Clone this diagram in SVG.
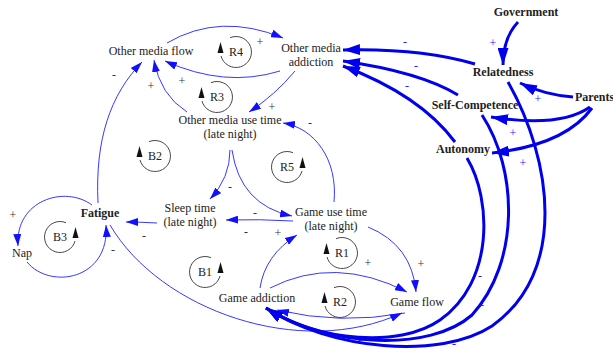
<svg xmlns="http://www.w3.org/2000/svg" xmlns:xlink="http://www.w3.org/1999/xlink" width="613" height="352" viewBox="0 0 613 352">
<style>
text{font-family:"Liberation Serif","Times New Roman",serif;font-size:12px;fill:#222;text-anchor:middle}
.b{font-weight:bold}
.thin{fill:none;stroke:#2020ff;stroke-width:0.9;marker-end:url(#ah)}
.thick{fill:none;stroke:#0000ee;stroke-width:3;marker-end:url(#ahb)}
.pol{font-size:12px;fill:#333}
.polb{font-size:12px;fill:#2020ff}
.loop{fill:none;stroke:#333;stroke-width:0.9}
</style>
<defs>
<marker id="ah" markerUnits="userSpaceOnUse" markerWidth="12" markerHeight="8" refX="12" refY="4" orient="auto"><path d="M0,0 L12,4 L0,8 z" fill="#1010ff"/></marker>
<marker id="ahb" markerUnits="userSpaceOnUse" markerWidth="17" markerHeight="11" refX="17" refY="5.5" orient="auto"><path d="M0,0 L17,5.5 L0,11 z" fill="#0000ee"/></marker>
<g id="loopL"><path class="loop" d="M-6,-14.3 A15.5,15.5 0 1 1 -15,4"/><path d="M-15.5,-10 L-18.5,1 L-12.5,1 z" fill="#111"/></g>
<g id="loopR"><path class="loop" d="M6,-14.3 A15.5,15.5 0 1 0 15,4"/><path d="M15.5,-10 L12.5,1 L18.5,1 z" fill="#111"/></g>
</defs>
<rect width="613" height="352" fill="#fff"/>
<g id="connectors">
<path class="thin" d="M167,43 Q220,12 283,38"/>
<path class="thin" d="M280,71 Q225,88 165,61"/>
<path class="thin" d="M295,71 Q275,95 249,112"/>
<path class="thin" d="M187,112 Q160,95 154,60"/>
<path class="thin" d="M98,203 C95,140 110,95 142,62"/>
<path class="thin" d="M230,150 Q230,178 210,199"/>
<path class="thin" d="M232,150 Q240,205 292,216"/>
<path class="thin" d="M293,221 Q260,219 226,220"/>
<path class="thin" d="M157,223 Q140,222 126,222"/>
<path class="thin" d="M334,202 C338,160 315,128 283,123"/>
<path class="thin" d="M260,288 Q265,255 297,235"/>
<path class="thin" d="M270,288 Q335,255 407,292"/>
<path class="thin" d="M405,313 Q340,325 277,310"/>
<path class="thin" d="M368,227 Q412,245 416,292"/>
<path class="thin" d="M110,225 C160,310 300,360 402,313"/>
<path class="thin" d="M92,205 C65,185 15,200 18,246"/>
<path class="thin" d="M27,262 C50,290 110,280 106,225"/>
<path class="thick" d="M518,22 Q503,38 503,65"/>
<path class="thick" d="M475,64 Q420,48 343,50"/>
<path class="thick" d="M458,95 Q420,72 343,61"/>
<path class="thick" d="M455,142 Q420,95 343,66"/>
<path class="thick" d="M573,97 Q545,95 520,83"/>
<path class="thick" d="M590,107 Q560,128 491,117"/>
<path class="thick" d="M592,108 Q565,145 492,153"/>
<path class="thick" d="M508,82 C552,160 568,272 492,326 C440,360 330,350 266,308"/>
<path class="thick" d="M482,115 C518,170 520,262 472,315 C430,352 330,348 266,308"/>
<path class="thick" d="M467,158 C492,200 494,282 440,320 C400,348 320,342 266,308"/>
</g>
<g id="polarities">
<text class="pol" x="260" y="46">+</text>
<text class="pol" x="182" y="85">+</text>
<text class="pol" x="272" y="111">+</text>
<text class="pol" x="151" y="90">+</text>
<text class="pol" x="114" y="79">-</text>
<text class="pol" x="230" y="191">-</text>
<text class="pol" x="255" y="217">-</text>
<text class="pol" x="246" y="236">-</text>
<text class="pol" x="144" y="240">-</text>
<text class="pol" x="310" y="127">-</text>
<text class="pol" x="278" y="237">+</text>
<text class="pol" x="368" y="267">+</text>
<text class="pol" x="421" y="268">+</text>
<text class="pol" x="113" y="254">-</text>
<text class="pol" x="13" y="219">+</text>
<text class="polb" x="493" y="47">+</text>
<text class="polb" x="405" y="46">-</text>
<text class="polb" x="416" y="70">-</text>
<text class="polb" x="407" y="90">-</text>
<text class="polb" x="538" y="103">+</text>
<text class="polb" x="513" y="137">+</text>
<text class="polb" x="523" y="167">+</text>
<text class="polb" x="480" y="280">-</text>
<text class="polb" x="482" y="309">-</text>
<text class="polb" x="454" y="348">-</text>
<text class="polb" x="360" y="344">-</text>
</g>
<g id="loops">
<use xlink:href="#loopL" x="236" y="52"/><text x="236" y="56">R4</text>
<use xlink:href="#loopL" x="217" y="97"/><text x="217" y="101">R3</text>
<use xlink:href="#loopL" x="155" y="156"/><text x="155" y="160">B2</text>
<use xlink:href="#loopR" x="287" y="167"/><text x="287" y="171">R5</text>
<use xlink:href="#loopR" x="60" y="237"/><text x="60" y="241">B3</text>
<use xlink:href="#loopR" x="205" y="272"/><text x="205" y="276">B1</text>
<use xlink:href="#loopL" x="342" y="253"/><text x="342" y="257">R1</text>
<use xlink:href="#loopL" x="340" y="302"/><text x="340" y="306">R2</text>
</g>
<g id="n-omflow"><text x="151" y="55">Other media flow</text></g>
<g id="n-omadd"><text x="311" y="52">Other media</text><text x="311" y="66">addiction</text></g>
<g id="n-omuse"><text x="230" y="124">Other media use time</text><text x="230" y="138">(late night)</text></g>
<g id="n-sleep"><text x="190" y="212">Sleep time</text><text x="190" y="226">(late night)</text></g>
<g id="n-gameuse"><text x="331" y="216">Game use time</text><text x="331" y="230">(late night)</text></g>
<g id="n-fatigue"><text class="b" x="100" y="217">Fatigue</text></g>
<g id="n-nap"><text x="22" y="257">Nap</text></g>
<g id="n-gameadd"><text x="257" y="302">Game addiction</text></g>
<g id="n-gameflow"><text x="417" y="306">Game flow</text></g>
<g id="n-gov"><text class="b" x="526" y="16">Government</text></g>
<g id="n-rel"><text class="b" x="503" y="76">Relatedness</text></g>
<g id="n-self"><text class="b" x="475" y="109">Self-Competence</text></g>
<g id="n-auto"><text class="b" x="463" y="153">Autonomy</text></g>
<g id="n-parents"><text class="b" x="575" y="101" style="text-anchor:start">Parents</text></g>
</svg>
